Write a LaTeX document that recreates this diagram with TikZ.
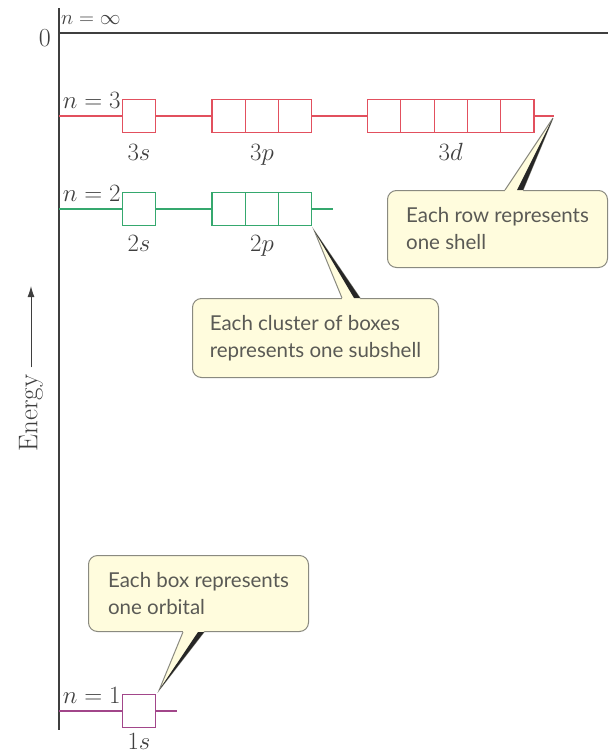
\documentclass[tikz,border=0pt]{standalone}
\usepackage{fontspec}
\newfontfamily\notefont{Lato}
\usetikzlibrary{arrows.meta}
\definecolor{shellred}{HTML}{E2505E}
\definecolor{shellgreen}{HTML}{35A86E}
\definecolor{shellpurple}{HTML}{A2468A}
\definecolor{notefill}{HTML}{FFFCDD}
\definecolor{noteline}{HTML}{8A8A80}
\definecolor{notetext}{HTML}{5A5A55}
\definecolor{axisgray}{HTML}{3F3F3F}
\begin{document}
\begin{tikzpicture}[
    x=1pt, y=-1pt,
    axis/.style={axisgray, line width=1.4pt},
    orb/.style={draw, fill=white, line width=1.1pt, minimum width=33.3pt, minimum height=33pt, inner sep=0pt},
    row/.style={line width=1.1pt},
    nlabel/.style={font=\fontsize{24.5}{28}\selectfont, anchor=base east, inner sep=0pt, text=axisgray},
    sublabel/.style={font=\fontsize{24.5}{28}\selectfont, anchor=base, inner sep=0pt, text=axisgray},
    note/.style={draw=noteline, fill=notefill, line width=1pt, rounded corners=9pt, anchor=north west, align=left, inner xsep=15pt, inner ysep=0pt, font=\notefont\fontsize{20.5}{27}\selectfont, text=notetext},
    shadow/.style={fill=black!85}
]
\useasboundingbox (0,0) rectangle (608,755);

% Axis and zero level
\coordinate (axtop) at (59,8);
\coordinate (axbot) at (59,730);
\coordinate (zerostart) at (59,33);
\coordinate (zeroend) at (608,33);
\draw[axis] (axtop) -- (axbot);
\draw[axis] (zerostart) -- (zeroend);
\node[nlabel, font=\fontsize{26}{30}\selectfont] (zero) at (51,46) {0};
\node[nlabel, anchor=base west, font=\fontsize{22}{26}\selectfont] (ninf) at (61,24) {$n = \infty$};

\node[sublabel, anchor=center, rotate=90, inner xsep=7pt, font=\fontsize{27}{30}\selectfont] (energy) at (31,413) {Energy};
\coordinate (energytip) at (31,286);
\draw[-{Latex[length=11pt, width=7pt]}, axisgray, line width=1pt] (energy) -- (energytip);

% Shell n = 3
\coordinate (start3) at (59,116);
\coordinate (end3) at (554,116);
\node[orb, draw=shellred] (s3) at (139,116) {};
\node[orb, draw=shellred] (p3a) at (228.65,116) {};
\node[orb, draw=shellred] (p3b) at (261.95,116) {};
\node[orb, draw=shellred] (p3c) at (295.25,116) {};
\node[orb, draw=shellred] (d3a) at (384.15,116) {};
\node[orb, draw=shellred] (d3b) at (417.45,116) {};
\node[orb, draw=shellred] (d3c) at (450.75,116) {};
\node[orb, draw=shellred] (d3d) at (484.05,116) {};
\node[orb, draw=shellred] (d3e) at (517.35,116) {};
\draw[row, shellred] (start3) -- (s3) (s3) -- (p3a) (p3c) -- (d3a) (d3e) -- (end3);
\node[nlabel] (n3) at ([shift={(-1pt,8pt)}]s3.west) {$n = 3$};
\node[sublabel] (l3s) at ([yshift=-27pt]s3.south) {$3s$};
\node[sublabel] (l3p) at ([yshift=-27pt]p3b.south) {$3p$};
\node[sublabel] (l3d) at ([yshift=-27pt]d3c.south) {$3d$};

% Shell n = 2
\coordinate (start2) at (59,209);
\coordinate (end2) at (333,209);
\node[orb, draw=shellgreen] (s2) at (139,209) {};
\node[orb, draw=shellgreen] (p2a) at (228.65,209) {};
\node[orb, draw=shellgreen] (p2b) at (261.95,209) {};
\node[orb, draw=shellgreen] (p2c) at (295.25,209) {};
\draw[row, shellgreen] (start2) -- (s2) (s2) -- (p2a) (p2c) -- (end2);
\node[nlabel] (n2) at ([shift={(-1pt,8pt)}]s2.west) {$n = 2$};
\node[sublabel] (l2s) at ([yshift=-25pt]s2.south) {$2s$};
\node[sublabel] (l2p) at ([yshift=-25pt]p2b.south) {$2p$};

% Shell n = 1
\coordinate (start1) at (59,711);
\coordinate (end1) at (177,711);
\node[orb, draw=shellpurple] (s1) at (139,711) {};
\draw[row, shellpurple] (start1) -- (s1) (s1) -- (end1);
\node[nlabel] (n1) at ([shift={(-1pt,8pt)}]s1.west) {$n = 1$};
\node[sublabel] (l1s) at ([yshift=-21pt]s1.south) {$1s$};

% Callouts
\node[note, minimum width=220pt, minimum height=77pt] (rownote) at (387,190) {Each row represents\\one shell};
\node[note, minimum width=246pt, minimum height=79pt] (subnote) at (192,298) {Each cluster of boxes\\represents one subshell};
\node[note, minimum width=220pt, minimum height=76pt] (boxnote) at (88,555) {Each box represents\\one orbital};

\coordinate (rowb1) at ([xshift=118pt]rownote.north west);
\coordinate (rowb2) at ([xshift=136pt]rownote.north west);
\coordinate (rowtip) at ([shift={(-1pt,-2pt)}]end3);
\fill[notefill] (rowb1) -- (rowtip) -- (rowb2) -- ([yshift=-2pt]rowb2) -- ([yshift=-2pt]rowb1) -- cycle;
\draw[noteline, line width=1pt] (rowb1) -- (rowtip) -- (rowb2);
\fill[shadow] (rowtip) -- (rowb2) -- ([xshift=-6pt]rowb2) -- cycle;

\coordinate (subb1) at ([xshift=150pt]subnote.north west);
\coordinate (subb2) at ([xshift=168pt]subnote.north west);
\coordinate (subtip) at ([shift={(2pt,-5pt)}]p2c.south east);
\fill[notefill] (subb1) -- (subtip) -- (subb2) -- ([yshift=-2pt]subb2) -- ([yshift=-2pt]subb1) -- cycle;
\draw[noteline, line width=1pt] (subb1) -- (subtip) -- (subb2);
\fill[shadow] (subtip) -- (subb2) -- ([xshift=-6pt]subb2) -- cycle;

\coordinate (boxb1) at ([xshift=95pt]boxnote.south west);
\coordinate (boxb2) at ([xshift=116pt]boxnote.south west);
\coordinate (boxtip) at ([shift={(3pt,4pt)}]s1.north east);
\fill[notefill] (boxb1) -- (boxtip) -- (boxb2) -- ([yshift=2pt]boxb2) -- ([yshift=2pt]boxb1) -- cycle;
\draw[noteline, line width=1pt] (boxb1) -- (boxtip) -- (boxb2);
\fill[shadow] (boxtip) -- (boxb2) -- ([xshift=-6pt]boxb2) -- cycle;
\end{tikzpicture}
\end{document}
